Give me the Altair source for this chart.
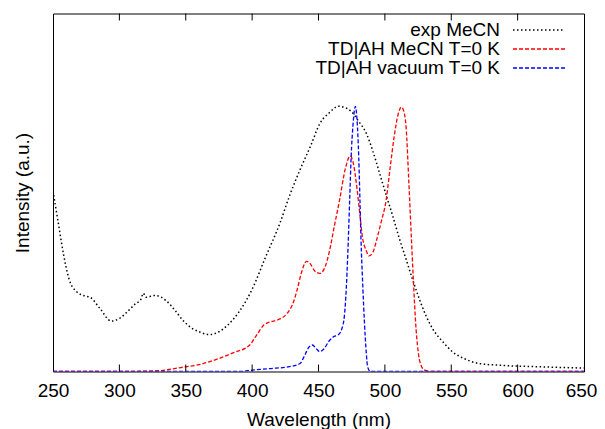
import altair as alt
import pandas as pd

# ---------------- data ----------------
series_names = ["exp MeCN", "TD|AH MeCN T=0 K", "TD|AH vacuum T=0 K"]
x_ticks = [250, 300, 350, 400, 450, 500, 550, 600, 650]

exp_wl = [250, 254, 258, 262, 268, 274, 278, 285, 294, 300, 306, 312, 316, 318,
          320, 327, 335, 342, 348, 355, 361, 368, 375, 381, 390, 400, 410, 421,
          428, 436, 444, 451, 458, 465, 470, 475, 480, 486, 491, 496, 501, 506,
          511, 516, 521, 526, 531, 536, 544, 551, 560, 571, 585, 596, 616, 635, 650]
exp_int = [0.68, 0.56, 0.44, 0.35, 0.30, 0.285, 0.28, 0.24, 0.19, 0.20, 0.225,
           0.255, 0.27, 0.295, 0.28, 0.287, 0.268, 0.23, 0.192, 0.162, 0.148,
           0.139, 0.15, 0.172, 0.224, 0.31, 0.43, 0.56, 0.66, 0.76, 0.85, 0.935,
           0.975, 1.0, 0.995, 0.979, 0.945, 0.898, 0.83, 0.748, 0.665, 0.585,
           0.50, 0.423, 0.345, 0.273, 0.21, 0.161, 0.11, 0.074, 0.048, 0.03,
           0.024, 0.021, 0.018, 0.015, 0.013]

mecn_wl = [250, 300, 330, 345, 360, 375, 386, 398, 404, 409, 413, 420, 426, 431,
           434, 437, 441, 444, 447, 451, 455, 458, 462, 466, 470, 474, 476, 479,
           481, 483, 486, 488, 491, 494, 497, 501, 504, 507, 510, 512.5, 514, 516,
           518, 520, 521.5, 523.5, 525.5, 527.5, 530, 535, 650]
mecn_int = [0, 0, 0.003, 0.014, 0.026, 0.049, 0.071, 0.099, 0.142, 0.176, 0.186,
            0.196, 0.217, 0.26, 0.31, 0.37, 0.415, 0.405, 0.38, 0.37, 0.395,
            0.448, 0.55, 0.65, 0.76, 0.813, 0.79, 0.69, 0.60, 0.51, 0.455, 0.436,
            0.45, 0.50, 0.56, 0.648, 0.77, 0.885, 0.97, 0.997, 0.985, 0.92, 0.72,
            0.50, 0.34, 0.16, 0.06, 0.02, 0.005, 0, 0]

vac_wl = [250, 390, 400, 413, 428, 436, 440, 442.5, 445.5, 448, 451, 454, 458,
          461, 465, 467.5, 469.5, 471, 472, 473.5, 474.6, 476, 477.8, 479, 480.3,
          481.2, 482, 483.3, 484.6, 486, 487, 489, 650]
vac_int = [0, 0, 0.005, 0.011, 0.018, 0.03, 0.065, 0.09, 0.1, 0.088, 0.075,
           0.085, 0.115, 0.13, 0.139, 0.16, 0.21, 0.32, 0.436, 0.65, 0.81, 0.93,
           1.0, 0.95, 0.81, 0.65, 0.50, 0.33, 0.186, 0.07, 0.018, 0, 0]

# ---------------- style ----------------
FONT = "Liberation Sans"
FS = 19
W, H = 531, 358
colors = ["black", "#ff0000", "#0000ff"]
dashes = [[1.5, 2.5], [4, 2], [4, 2]]
widths = [1.5, 1.3, 1.3]

xscale = alt.Scale(domain=[250, 650], nice=False, zero=False)
yscale = alt.Scale(domain=[0, 1.35], nice=False, zero=True)

xaxis = alt.Axis(values=x_ticks, title="Wavelength (nm)", ticks=False, domain=False,
                 grid=False, labelFont=FONT, labelFontSize=FS, labelColor="black",
                 labelPadding=10, labelFlush=False, labelOverlap=False, format="d",
                 labelOffset=alt.condition("datum.value == 650", alt.value(-3), alt.value(0)),
                 titleFont=FONT, titleFontSize=FS, titleFontWeight="normal",
                 titleColor="black", titlePadding=10)
yaxis = alt.Axis(title="Intensity (a.u.)", labels=False, ticks=False, domain=False,
                 grid=False, titleFont=FONT, titleFontSize=FS,
                 titleFontWeight="normal", titleColor="black", titlePadding=21)


def curve(wl, vals, i):
    df = pd.DataFrame({"wl": wl, "I": vals})
    return alt.Chart(df).mark_line(
        color=colors[i], strokeDash=dashes[i], strokeWidth=widths[i],
        interpolate="monotone", clip=True
    ).encode(
        x=alt.X("wl:Q", scale=xscale, axis=xaxis),
        y=alt.Y("I:Q", scale=yscale, axis=yaxis),
    )


tick_df = pd.DataFrame({"wl": x_ticks[1:-1]})
ticks_bottom = alt.Chart(tick_df).mark_rule(color="black", strokeWidth=1).encode(
    x=alt.X("wl:Q", scale=xscale, axis=xaxis), y=alt.value(H), y2=alt.value(H - 7))
ticks_top = alt.Chart(tick_df).mark_rule(color="black", strokeWidth=1).encode(
    x=alt.X("wl:Q", scale=xscale, axis=xaxis), y=alt.value(0), y2=alt.value(7))

legend_layers = []
row_y = [16.5, 35.5, 54.5]
for i, name in enumerate(series_names):
    ldf = pd.DataFrame({"label": [name]})
    legend_layers.append(
        alt.Chart(ldf).mark_text(align="right", baseline="middle", font=FONT,
                                 fontSize=FS, color="black").encode(
            text="label:N", x=alt.value(447), y=alt.value(row_y[i])))
    legend_layers.append(
        alt.Chart(ldf).mark_rule(color=colors[i], strokeDash=dashes[i],
                                 strokeWidth=widths[i]).encode(
            x=alt.value(460), x2=alt.value(512), y=alt.value(row_y[i])))

chart = alt.layer(
    curve(exp_wl, exp_int, 0),
    curve(mecn_wl, mecn_int, 1),
    curve(vac_wl, vac_int, 2),
    ticks_bottom, ticks_top,
    *legend_layers,
).properties(
    width=W, height=H,
    padding={"left": 45, "top": 5.5, "right": 13, "bottom": 58},
    autosize=alt.AutoSizeParams(type="none"),
    background="white",
).configure_view(stroke="black", strokeWidth=1)

chart.save("out.html", embed_options={"renderer": "svg", "actions": False})
